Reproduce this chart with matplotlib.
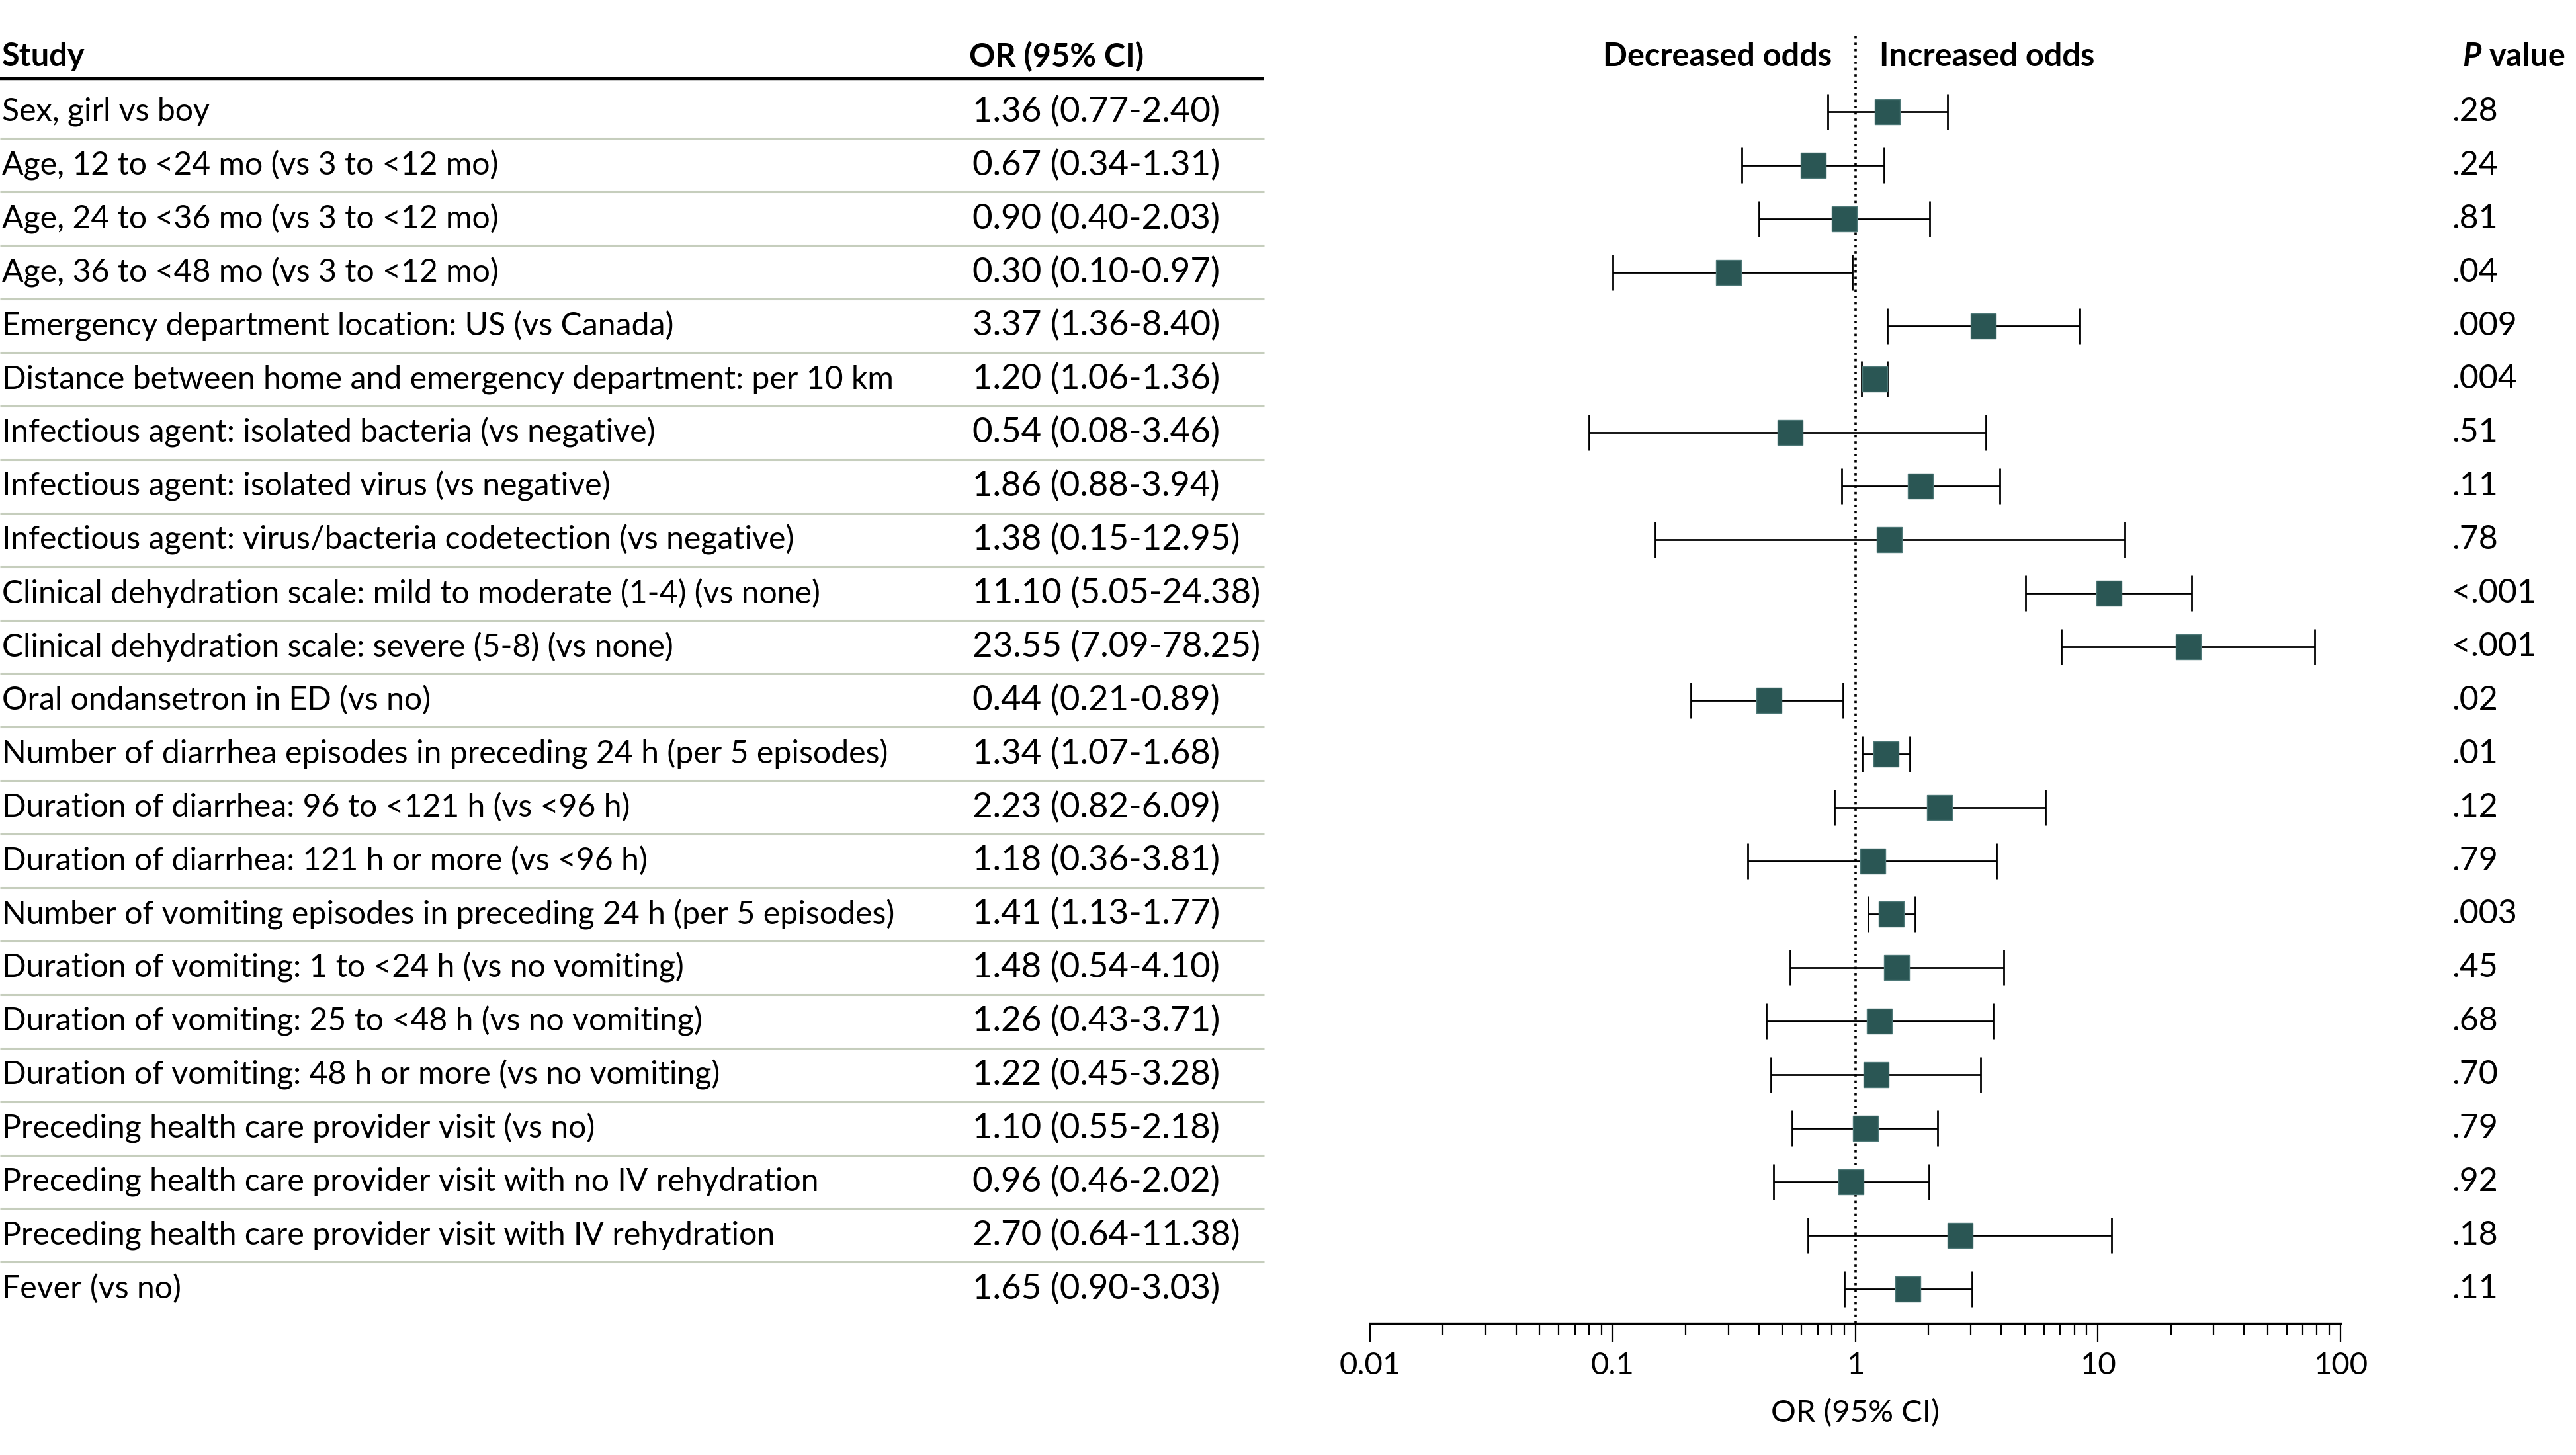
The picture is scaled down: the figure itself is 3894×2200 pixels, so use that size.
import matplotlib
matplotlib.use("Agg")
import matplotlib.pyplot as plt
from matplotlib.transforms import blended_transform_factory
import numpy as np

plt.rcParams['font.family'] = ['Lato', 'DejaVu Sans']

labels = [
    "Sex, girl vs boy",
    "Age, 12 to <24 mo (vs 3 to <12 mo)",
    "Age, 24 to <36 mo (vs 3 to <12 mo)",
    "Age, 36 to <48 mo (vs 3 to <12 mo)",
    "Emergency department location: US (vs Canada)",
    "Distance between home and emergency department: per 10 km",
    "Infectious agent: isolated bacteria (vs negative)",
    "Infectious agent: isolated virus (vs negative)",
    "Infectious agent: virus/bacteria codetection (vs negative)",
    "Clinical dehydration scale: mild to moderate (1-4) (vs none)",
    "Clinical dehydration scale: severe (5-8) (vs none)",
    "Oral ondansetron in ED (vs no)",
    "Number of diarrhea episodes in preceding 24 h (per 5 episodes)",
    "Duration of diarrhea: 96 to <121 h (vs <96 h)",
    "Duration of diarrhea: 121 h or more (vs <96 h)",
    "Number of vomiting episodes in preceding 24 h (per 5 episodes)",
    "Duration of vomiting: 1 to <24 h (vs no vomiting)",
    "Duration of vomiting: 25 to <48 h (vs no vomiting)",
    "Duration of vomiting: 48 h or more (vs no vomiting)",
    "Preceding health care provider visit (vs no)",
    "Preceding health care provider visit with no IV rehydration",
    "Preceding health care provider visit with IV rehydration",
    "Fever (vs no)",
]
odds = [1.36, 0.67, 0.90, 0.30, 3.37, 1.20, 0.54, 1.86, 1.38, 11.10, 23.55, 0.44,
        1.34, 2.23, 1.18, 1.41, 1.48, 1.26, 1.22, 1.10, 0.96, 2.70, 1.65]
ci_low = [0.77, 0.34, 0.40, 0.10, 1.36, 1.06, 0.08, 0.88, 0.15, 5.05, 7.09, 0.21,
          1.07, 0.82, 0.36, 1.13, 0.54, 0.43, 0.45, 0.55, 0.46, 0.64, 0.90]
ci_high = [2.40, 1.31, 2.03, 0.97, 8.40, 1.36, 3.46, 3.94, 12.95, 24.38, 78.25, 0.89,
           1.68, 6.09, 3.81, 1.77, 4.10, 3.71, 3.28, 2.18, 2.02, 11.38, 3.03]
p_values = [".28", ".24", ".81", ".04", ".009", ".004", ".51", ".11", ".78", "<.001", "<.001", ".02",
            ".01", ".12", ".79", ".003", ".45", ".68", ".70", ".79", ".92", ".18", ".11"]
tick_values = [0.01, 0.1, 1, 10, 100]
tick_labels = ["0.01", "0.1", "1", "10", "100"]

W, H = 3894, 2200
fig = plt.figure(figsize=(W / 100, H / 100), dpi=100)

ax_left, ax_right = 2071, 3538
ax_top, ax_bot = 55, 2001
row0, row_step = 169, 80.9
ax = fig.add_axes([ax_left / W, 1 - ax_bot / H, (ax_right - ax_left) / W, (ax_bot - ax_top) / H])
ax.set_xscale('log')
ax.set_xlim(0.01, 100)
ax.set_ylim((ax_bot - row0) / row_step, (ax_top - row0) / row_step)

n = len(labels)
y = np.arange(n)
odds_a = np.array(odds)
lo_a = np.array(ci_low)
hi_a = np.array(ci_high)

ax.axvline(1, ls=':', color='black', lw=2.6, zorder=1)
ax.errorbar(odds_a, y, xerr=[odds_a - lo_a, hi_a - odds_a], fmt='none', ecolor='black',
            elinewidth=2.0, capsize=19.5, capthick=2.0, zorder=2)
ax.plot(odds_a, y, 's', ms=27, color='#2a5654', mec='#4d7877', mew=1.0, zorder=3, ls='none')

for s in ['top', 'left', 'right']:
    ax.spines[s].set_visible(False)
ax.spines['bottom'].set_linewidth(2.4)
ax.set_yticks([])
ax.set_xticks(tick_values)
ax.set_xticklabels(tick_labels)
minors = [m * 10.0 ** e for e in range(-2, 2) for m in range(2, 10)]
ax.set_xticks(minors, minor=True)
ax.xaxis.set_minor_formatter(plt.NullFormatter())
ax.tick_params(axis='x', which='major', length=20, width=1.6, direction='out', pad=11, labelsize=34)
ax.tick_params(axis='x', which='minor', length=12, width=1.6, direction='out')
ax.set_xlabel("OR (95% CI)", fontsize=34, labelpad=21)

trans = blended_transform_factory(fig.transFigure, ax.transData)
fs_label = 34.7
fs_num = 38
fs_p = 36
fs_head = 35
text_x = 3 / W
or_x = 1470 / W
p_x = 3706 / W
line_end = 1911 / W

for i in range(n):
    ax.text(text_x, i, labels[i], transform=trans, ha='left', va='center', fontsize=fs_label, clip_on=False)
    ax.text(or_x, i, f"{odds[i]:.2f} ({ci_low[i]:.2f}-{ci_high[i]:.2f})", transform=trans,
            ha='left', va='center', fontsize=fs_num, clip_on=False)
    ax.text(p_x, i, p_values[i], transform=trans, ha='left', va='center', fontsize=fs_p, clip_on=False)
    if i < n - 1:
        ax.plot([0, line_end], [i + 0.5, i + 0.5], transform=trans, color='#c6cebd', lw=2.2,
                clip_on=False, solid_capstyle='butt')

hy = (86 - row0) / row_step
ax.plot([0, line_end], [(119 - row0) / row_step] * 2, transform=trans, color='black', lw=3.2,
        clip_on=False, solid_capstyle='butt')
ax.text(text_x, hy, "Study", transform=trans, ha='left', va='center', fontsize=fs_head, fontweight='bold')
ax.text(1465 / W, hy, "OR (95% CI)", transform=trans, ha='left', va='center', fontsize=fs_head, fontweight='bold')
ax.text(2769 / W, hy, "Decreased odds", transform=trans, ha='right', va='center', fontsize=fs_head, fontweight='bold')
ax.text(2841 / W, hy, "Increased odds", transform=trans, ha='left', va='center', fontsize=fs_head, fontweight='bold')
ax.text(3722 / W, hy, "P", transform=trans, ha='left', va='center', fontsize=fs_head, fontweight='bold', fontstyle='italic')
ax.text(3763 / W, hy, "value", transform=trans, ha='left', va='center', fontsize=fs_head, fontweight='bold')

fig.savefig("out.png", dpi=100)
